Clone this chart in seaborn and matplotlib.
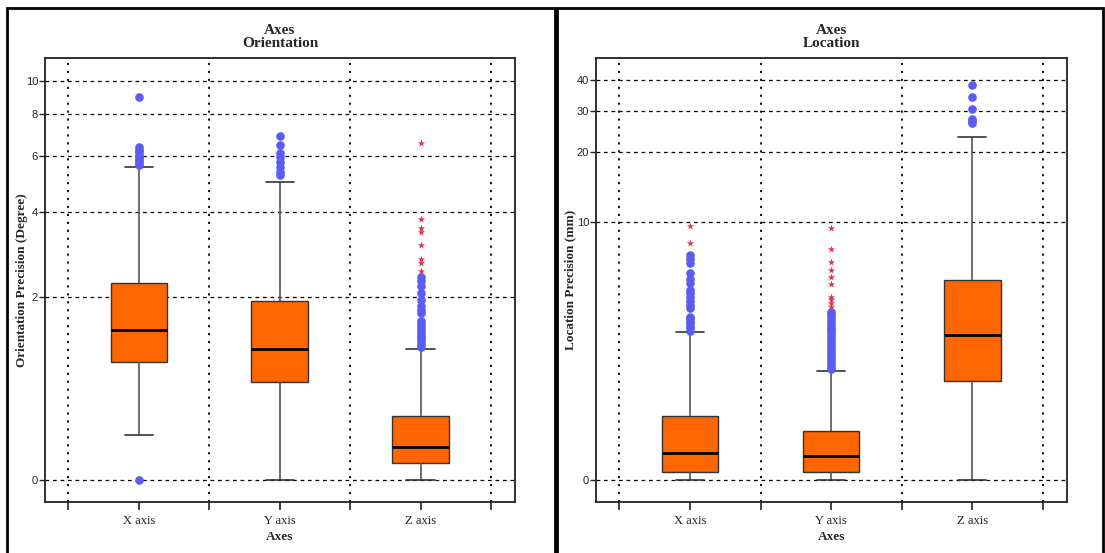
import numpy as np
import pandas as pd
import matplotlib
matplotlib.use("Agg")
import matplotlib.pyplot as plt
from matplotlib.patches import Rectangle
import seaborn as sns

# ---- categories -------------------------------------------------------
categories = ["X axis", "Y axis", "Z axis"]

# ---- orientation precision (degree): five-number summaries -----------
orient_low = [0.31, 0.0, 0.0]
orient_q1 = [1.03, 0.80, 0.11]
orient_med = [1.46, 1.20, 0.22]
orient_q3 = [2.26, 1.93, 0.47]
orient_high = [5.56, 4.98, 1.20]

# outliers (circles) and extreme values (stars)
orient_out_x = [0.0, 5.62, 5.70, 5.78, 5.86, 5.95, 6.05, 6.15, 6.25, 6.39, 8.98]
orient_out_y = [5.24, 5.35, 5.56, 5.75, 5.96, 6.12, 6.47, 6.90]
orient_out_z = [1.22, 1.26, 1.30, 1.34, 1.38, 1.42, 1.46, 1.50, 1.55, 1.60,
                1.73, 1.78, 1.85, 1.94, 2.08, 2.20, 2.30, 2.38]
orient_ext_x = []
orient_ext_y = []
orient_ext_z = [2.51, 2.68, 2.76, 3.10, 3.43, 3.53, 3.79, 6.57]

# ---- location precision (mm): five-number summaries ------------------
loc_low = [0.0, 0.0, 0.0]
loc_q1 = [0.074, 0.08, 1.51]
loc_med = [0.29, 0.253, 2.84]
loc_q3 = [0.81, 0.58, 5.42]
loc_high = [2.96, 1.76, 23.2]

loc_out_x = [3.0, 3.1, 3.2, 3.3, 3.4, 3.5, 3.56, 3.95, 4.1, 4.3, 4.5, 4.7,
             4.85, 5.24, 5.5, 5.85, 6.51, 6.8, 7.09]
loc_out_y = [1.80, 1.87, 1.95, 2.02, 2.10, 2.18, 2.27, 2.35, 2.44, 2.53,
             2.62, 2.72, 2.81, 2.91, 3.02, 3.12, 3.23, 3.34, 3.46, 3.58,
             3.70, 3.78]
loc_out_z = [26.5, 27.0, 27.6, 30.4, 34.0, 38.2]
loc_ext_x = [8.03, 9.6]
loc_ext_y = [4.01, 4.20, 4.36, 4.48, 5.18, 5.61, 6.04, 6.58, 7.56, 9.37]
loc_ext_z = []

orient_ticks = [0, 2, 4, 6, 8, 10]
loc_ticks = [0, 10, 20, 30, 40]

BOX_COLOR = "#ff6600"
OUT_COLOR = "#5b5cf0"
EXT_COLOR = "#e0334f"

sns.set_theme(style="white")
plt.rcParams["font.family"] = ["Liberation Serif", "DejaVu Serif"]


def summary_frame(low, q1, med, q3, high):
    rows = []
    for cat, a, b, c, d, e in zip(categories, low, q1, med, q3, high):
        for v in (a, b, c, d, e):
            rows.append({"axis": cat, "value": v})
    return pd.DataFrame(rows)


def points_frame(per_cat):
    rows = []
    for cat, vals in zip(categories, per_cat):
        for v in vals:
            rows.append({"axis": cat, "value": v})
    return pd.DataFrame(rows, columns=["axis", "value"])


def draw_panel(ax, stats, outliers, extremes, yticks, ylim, ylabel,
               title_top, label_x):
    df = summary_frame(*stats)
    sns.boxplot(data=df, x="axis", y="value", order=categories, ax=ax,
                whis=(0, 100), width=0.4, color=BOX_COLOR, saturation=1,
                fliersize=0, linecolor="#333333", linewidth=1.0,
                medianprops=dict(color="black", linewidth=2.0),
                whiskerprops=dict(color="#555555", linewidth=1.2),
                capprops=dict(color="#333333", linewidth=1.2),
                boxprops=dict(edgecolor="#333333", linewidth=1.0))
    out_df = points_frame(outliers)
    if len(out_df):
        sns.stripplot(data=out_df, x="axis", y="value", order=categories,
                      jitter=False, color=OUT_COLOR, size=6.2, linewidth=0,
                      ax=ax, zorder=4)
    ext_df = points_frame(extremes)
    if len(ext_df):
        sns.stripplot(data=ext_df, x="axis", y="value", order=categories,
                      jitter=False, color=EXT_COLOR, size=5.5, marker="*",
                      linewidth=0, ax=ax, zorder=4)

    ax.set_yscale("function", functions=(np.log1p, np.expm1))
    ax.set_ylim(*ylim)
    ax.set_xlim(-0.665, 2.67)
    ax.set_yticks(yticks)
    ax.set_yticklabels([str(t) for t in yticks], family="Liberation Sans",
                       fontsize=8, color="#222222")
    ax.set_xticks(range(len(categories)))
    ax.set_xticklabels(categories, fontsize=9, color="#222222")
    ax.set_xticks([-0.5, 0.5, 1.5, 2.5], minor=True)
    ax.yaxis.set_minor_locator(matplotlib.ticker.NullLocator())

    ax.set_axisbelow(True)
    ax.grid(axis="y", which="major", color="black", linestyle=(0, (3, 3)),
            linewidth=0.9)
    ax.grid(axis="x", which="minor", color="black", linestyle=(0, (1.2, 3.2)),
            linewidth=1.3)
    ax.grid(axis="x", which="major", visible=False)

    ax.tick_params(axis="y", which="major", direction="out", length=4,
                   width=1, color="#222222", left=True, pad=1)
    ax.tick_params(axis="x", which="both", direction="out", length=6,
                   width=1.2, color="#222222", bottom=True, pad=3)
    for s in ax.spines.values():
        s.set_visible(True)
        s.set_color("#222222")
        s.set_linewidth(1.3)

    ax.set_xlabel("Axes", fontsize=9.5, fontweight="bold", labelpad=3)
    ax.set_ylabel(ylabel, fontsize=9.5, fontweight="bold")
    ax.yaxis.set_label_coords(label_x, 0.5)
    ax.set_title("Axes\n" + title_top, fontsize=11, fontweight="bold",
                 pad=8, linespacing=1.0)


W, H = 1105, 553
fig = plt.figure(figsize=(W / 100, H / 100), dpi=100)
fig.patch.set_facecolor("white")

ax1 = fig.add_axes([45 / W, 1 - 502 / H, 470 / W, 444 / H])
ax2 = fig.add_axes([596 / W, 1 - 502 / H, 471 / W, 444 / H])

draw_panel(ax1,
           (orient_low, orient_q1, orient_med, orient_q3, orient_high),
           (orient_out_x, orient_out_y, orient_out_z),
           (orient_ext_x, orient_ext_y, orient_ext_z),
           orient_ticks, (-0.124, 11.6),
           "Orientation Precision (Degree)", "Orientation", -0.037)
draw_panel(ax2,
           (loc_low, loc_q1, loc_med, loc_q3, loc_high),
           (loc_out_x, loc_out_y, loc_out_z),
           (loc_ext_x, loc_ext_y, loc_ext_z),
           loc_ticks, (-0.185, 49.5),
           "Location Precision (mm)", "Location", -0.041)

# panel frames
for x0, x1 in ((7, 555), (557, 1103)):
    fig.add_artist(Rectangle((x0 / W, -0.02), (x1 - x0) / W, 1.02 - 8 / H,
                             transform=fig.transFigure, fill=False,
                             edgecolor="black", linewidth=2))

fig.savefig("out.png", dpi=100)
